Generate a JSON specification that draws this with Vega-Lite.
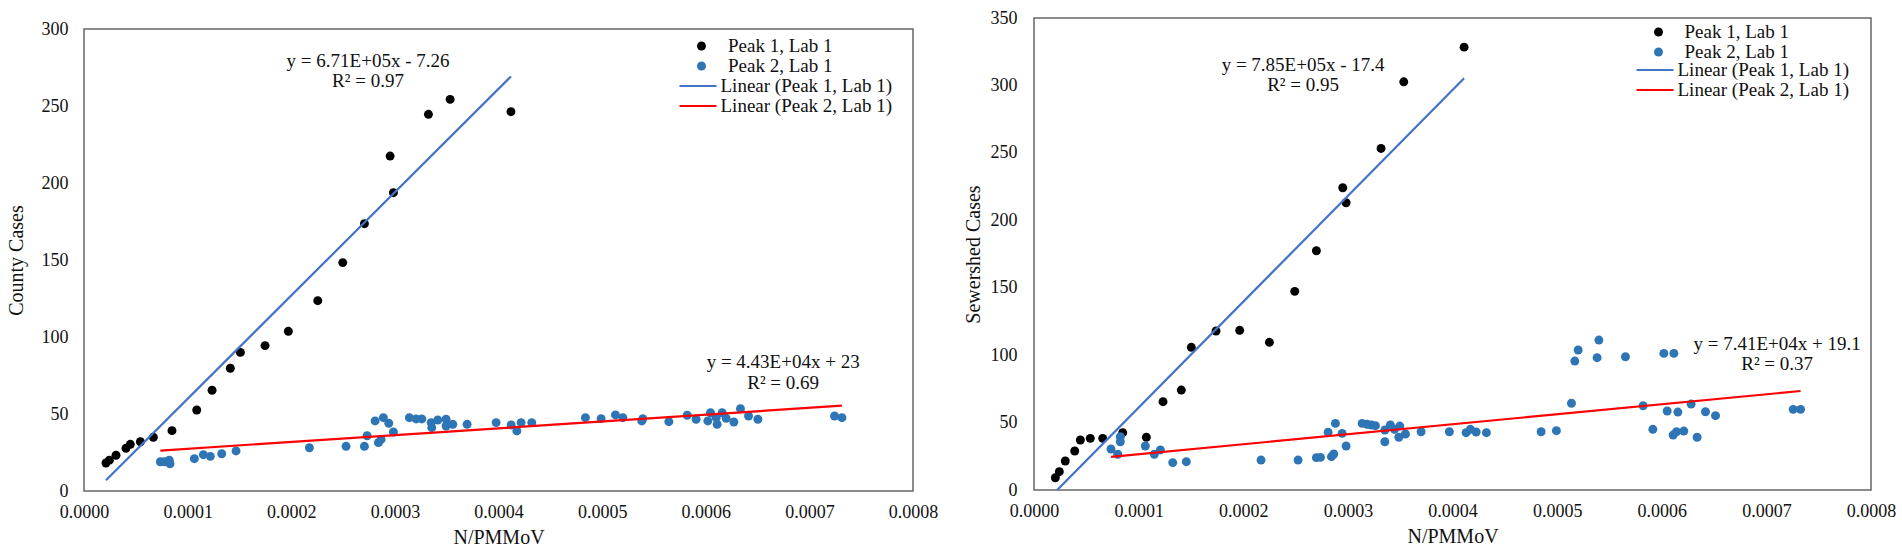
{
  "$schema": "https://vega.github.io/schema/vega-lite/v6.json",
  "autosize": {"type": "pad"},
  "padding": {"left": 5, "top": 8, "right": 0, "bottom": 0},
  "spacing": 23,
  "datasets": {
    "county_points": [
      {"n_pmmov": 0.0000212, "cases": 18.2, "series": "Peak 1, Lab 1"},
      {"n_pmmov": 0.0000245, "cases": 20, "series": "Peak 1, Lab 1"},
      {"n_pmmov": 0.0000309, "cases": 23.2, "series": "Peak 1, Lab 1"},
      {"n_pmmov": 0.0000405, "cases": 27.7, "series": "Peak 1, Lab 1"},
      {"n_pmmov": 0.0000447, "cases": 30.3, "series": "Peak 1, Lab 1"},
      {"n_pmmov": 0.0000544, "cases": 32, "series": "Peak 1, Lab 1"},
      {"n_pmmov": 0.0000669, "cases": 34.9, "series": "Peak 1, Lab 1"},
      {"n_pmmov": 0.0000849, "cases": 39.2, "series": "Peak 1, Lab 1"},
      {"n_pmmov": 0.0001088, "cases": 52.6, "series": "Peak 1, Lab 1"},
      {"n_pmmov": 0.0001236, "cases": 65.4, "series": "Peak 1, Lab 1"},
      {"n_pmmov": 0.0001412, "cases": 79.7, "series": "Peak 1, Lab 1"},
      {"n_pmmov": 0.0001509, "cases": 90, "series": "Peak 1, Lab 1"},
      {"n_pmmov": 0.0001747, "cases": 94.4, "series": "Peak 1, Lab 1"},
      {"n_pmmov": 0.0001972, "cases": 103.7, "series": "Peak 1, Lab 1"},
      {"n_pmmov": 0.0002256, "cases": 123.6, "series": "Peak 1, Lab 1"},
      {"n_pmmov": 0.0002497, "cases": 148.3, "series": "Peak 1, Lab 1"},
      {"n_pmmov": 0.0002706, "cases": 173.6, "series": "Peak 1, Lab 1"},
      {"n_pmmov": 0.0002986, "cases": 193.7, "series": "Peak 1, Lab 1"},
      {"n_pmmov": 0.0002954, "cases": 217.5, "series": "Peak 1, Lab 1"},
      {"n_pmmov": 0.0003324, "cases": 244.6, "series": "Peak 1, Lab 1"},
      {"n_pmmov": 0.0003533, "cases": 254.3, "series": "Peak 1, Lab 1"},
      {"n_pmmov": 0.000412, "cases": 246.3, "series": "Peak 1, Lab 1"},
      {"n_pmmov": 0.0000737, "cases": 19, "series": "Peak 2, Lab 1"},
      {"n_pmmov": 0.0000775, "cases": 19, "series": "Peak 2, Lab 1"},
      {"n_pmmov": 0.0000823, "cases": 20, "series": "Peak 2, Lab 1"},
      {"n_pmmov": 0.000083, "cases": 17.7, "series": "Peak 2, Lab 1"},
      {"n_pmmov": 0.0001065, "cases": 21, "series": "Peak 2, Lab 1"},
      {"n_pmmov": 0.0001152, "cases": 23.6, "series": "Peak 2, Lab 1"},
      {"n_pmmov": 0.0001219, "cases": 22.5, "series": "Peak 2, Lab 1"},
      {"n_pmmov": 0.0001329, "cases": 24.2, "series": "Peak 2, Lab 1"},
      {"n_pmmov": 0.0001467, "cases": 26, "series": "Peak 2, Lab 1"},
      {"n_pmmov": 0.0002175, "cases": 28.1, "series": "Peak 2, Lab 1"},
      {"n_pmmov": 0.0002529, "cases": 29, "series": "Peak 2, Lab 1"},
      {"n_pmmov": 0.0002706, "cases": 29, "series": "Peak 2, Lab 1"},
      {"n_pmmov": 0.0002732, "cases": 35.9, "series": "Peak 2, Lab 1"},
      {"n_pmmov": 0.0002809, "cases": 45.5, "series": "Peak 2, Lab 1"},
      {"n_pmmov": 0.0002889, "cases": 47.6, "series": "Peak 2, Lab 1"},
      {"n_pmmov": 0.0002941, "cases": 44, "series": "Peak 2, Lab 1"},
      {"n_pmmov": 0.0002841, "cases": 31.4, "series": "Peak 2, Lab 1"},
      {"n_pmmov": 0.0002867, "cases": 33.5, "series": "Peak 2, Lab 1"},
      {"n_pmmov": 0.0002986, "cases": 38.3, "series": "Peak 2, Lab 1"},
      {"n_pmmov": 0.000314, "cases": 47.6, "series": "Peak 2, Lab 1"},
      {"n_pmmov": 0.0003205, "cases": 46.8, "series": "Peak 2, Lab 1"},
      {"n_pmmov": 0.000326, "cases": 46.8, "series": "Peak 2, Lab 1"},
      {"n_pmmov": 0.000335, "cases": 44.4, "series": "Peak 2, Lab 1"},
      {"n_pmmov": 0.0003356, "cases": 41.1, "series": "Peak 2, Lab 1"},
      {"n_pmmov": 0.0003414, "cases": 46.1, "series": "Peak 2, Lab 1"},
      {"n_pmmov": 0.0003494, "cases": 46.6, "series": "Peak 2, Lab 1"},
      {"n_pmmov": 0.0003494, "cases": 42.2, "series": "Peak 2, Lab 1"},
      {"n_pmmov": 0.0003559, "cases": 43.3, "series": "Peak 2, Lab 1"},
      {"n_pmmov": 0.0003697, "cases": 43.3, "series": "Peak 2, Lab 1"},
      {"n_pmmov": 0.0003977, "cases": 44.4, "series": "Peak 2, Lab 1"},
      {"n_pmmov": 0.0004122, "cases": 42.9, "series": "Peak 2, Lab 1"},
      {"n_pmmov": 0.0004177, "cases": 39, "series": "Peak 2, Lab 1"},
      {"n_pmmov": 0.0004218, "cases": 44.4, "series": "Peak 2, Lab 1"},
      {"n_pmmov": 0.0004321, "cases": 44.4, "series": "Peak 2, Lab 1"},
      {"n_pmmov": 0.0004839, "cases": 47.6, "series": "Peak 2, Lab 1"},
      {"n_pmmov": 0.000499, "cases": 47, "series": "Peak 2, Lab 1"},
      {"n_pmmov": 0.0005129, "cases": 49.4, "series": "Peak 2, Lab 1"},
      {"n_pmmov": 0.00052, "cases": 47.6, "series": "Peak 2, Lab 1"},
      {"n_pmmov": 0.0005393, "cases": 47, "series": "Peak 2, Lab 1"},
      {"n_pmmov": 0.0005383, "cases": 45.5, "series": "Peak 2, Lab 1"},
      {"n_pmmov": 0.0005644, "cases": 45, "series": "Peak 2, Lab 1"},
      {"n_pmmov": 0.0005821, "cases": 49.2, "series": "Peak 2, Lab 1"},
      {"n_pmmov": 0.0005907, "cases": 46.6, "series": "Peak 2, Lab 1"},
      {"n_pmmov": 0.000602, "cases": 45.5, "series": "Peak 2, Lab 1"},
      {"n_pmmov": 0.0006046, "cases": 50.8, "series": "Peak 2, Lab 1"},
      {"n_pmmov": 0.00061, "cases": 47.6, "series": "Peak 2, Lab 1"},
      {"n_pmmov": 0.000611, "cases": 43.3, "series": "Peak 2, Lab 1"},
      {"n_pmmov": 0.0006158, "cases": 50.8, "series": "Peak 2, Lab 1"},
      {"n_pmmov": 0.0006197, "cases": 47.2, "series": "Peak 2, Lab 1"},
      {"n_pmmov": 0.0006271, "cases": 44.8, "series": "Peak 2, Lab 1"},
      {"n_pmmov": 0.0006335, "cases": 53.4, "series": "Peak 2, Lab 1"},
      {"n_pmmov": 0.0006413, "cases": 48.7, "series": "Peak 2, Lab 1"},
      {"n_pmmov": 0.0006503, "cases": 46.6, "series": "Peak 2, Lab 1"},
      {"n_pmmov": 0.0007243, "cases": 48.7, "series": "Peak 2, Lab 1"},
      {"n_pmmov": 0.0007314, "cases": 47.6, "series": "Peak 2, Lab 1"}
    ],
    "county_trend": [
      {"n_pmmov": 0.0000212, "cases": 6.97, "series": "Linear (Peak 1, Lab 1)"},
      {"n_pmmov": 0.000412, "cases": 269.2, "series": "Linear (Peak 1, Lab 1)"},
      {"n_pmmov": 0.0000737, "cases": 26.27, "series": "Linear (Peak 2, Lab 1)"},
      {"n_pmmov": 0.0007314, "cases": 55.4, "series": "Linear (Peak 2, Lab 1)"}
    ],
    "county_labels": [
      {"n_pmmov": 0.0002741, "cases": 279.2, "label": "y = 6.71E+05x - 7.26"},
      {"n_pmmov": 0.0002741, "cases": 266.2, "label": "R² = 0.97"},
      {"n_pmmov": 0.0006747, "cases": 83.8, "label": "y = 4.43E+04x + 23"},
      {"n_pmmov": 0.0006747, "cases": 70.1, "label": "R² = 0.69"}
    ],
    "sewershed_points": [
      {"n_pmmov": 0.0000204, "cases": 9.1, "series": "Peak 1, Lab 1"},
      {"n_pmmov": 0.0000242, "cases": 13.6, "series": "Peak 1, Lab 1"},
      {"n_pmmov": 0.0000299, "cases": 21.5, "series": "Peak 1, Lab 1"},
      {"n_pmmov": 0.0000389, "cases": 28.9, "series": "Peak 1, Lab 1"},
      {"n_pmmov": 0.0000443, "cases": 37.1, "series": "Peak 1, Lab 1"},
      {"n_pmmov": 0.0000538, "cases": 38.3, "series": "Peak 1, Lab 1"},
      {"n_pmmov": 0.0000657, "cases": 38.3, "series": "Peak 1, Lab 1"},
      {"n_pmmov": 0.0000848, "cases": 42.5, "series": "Peak 1, Lab 1"},
      {"n_pmmov": 0.0001074, "cases": 39.1, "series": "Peak 1, Lab 1"},
      {"n_pmmov": 0.0001233, "cases": 65.5, "series": "Peak 1, Lab 1"},
      {"n_pmmov": 0.0001408, "cases": 74.1, "series": "Peak 1, Lab 1"},
      {"n_pmmov": 0.0001504, "cases": 105.8, "series": "Peak 1, Lab 1"},
      {"n_pmmov": 0.000174, "cases": 117.9, "series": "Peak 1, Lab 1"},
      {"n_pmmov": 0.0001966, "cases": 118.4, "series": "Peak 1, Lab 1"},
      {"n_pmmov": 0.000225, "cases": 109.5, "series": "Peak 1, Lab 1"},
      {"n_pmmov": 0.0002492, "cases": 147.3, "series": "Peak 1, Lab 1"},
      {"n_pmmov": 0.0002699, "cases": 177.4, "series": "Peak 1, Lab 1"},
      {"n_pmmov": 0.0002951, "cases": 224.1, "series": "Peak 1, Lab 1"},
      {"n_pmmov": 0.0002983, "cases": 213, "series": "Peak 1, Lab 1"},
      {"n_pmmov": 0.0003317, "cases": 253.3, "series": "Peak 1, Lab 1"},
      {"n_pmmov": 0.0003534, "cases": 302.7, "series": "Peak 1, Lab 1"},
      {"n_pmmov": 0.0004111, "cases": 328.4, "series": "Peak 1, Lab 1"},
      {"n_pmmov": 0.0000736, "cases": 30.4, "series": "Peak 2, Lab 1"},
      {"n_pmmov": 0.00008, "cases": 26.5, "series": "Peak 2, Lab 1"},
      {"n_pmmov": 0.0000825, "cases": 39.5, "series": "Peak 2, Lab 1"},
      {"n_pmmov": 0.0000825, "cases": 35.8, "series": "Peak 2, Lab 1"},
      {"n_pmmov": 0.0001064, "cases": 32.6, "series": "Peak 2, Lab 1"},
      {"n_pmmov": 0.000115, "cases": 26.5, "series": "Peak 2, Lab 1"},
      {"n_pmmov": 0.0001208, "cases": 29.7, "series": "Peak 2, Lab 1"},
      {"n_pmmov": 0.0001326, "cases": 20.3, "series": "Peak 2, Lab 1"},
      {"n_pmmov": 0.0001456, "cases": 21, "series": "Peak 2, Lab 1"},
      {"n_pmmov": 0.000217, "cases": 22.2, "series": "Peak 2, Lab 1"},
      {"n_pmmov": 0.0002524, "cases": 22.2, "series": "Peak 2, Lab 1"},
      {"n_pmmov": 0.0002699, "cases": 24, "series": "Peak 2, Lab 1"},
      {"n_pmmov": 0.0002738, "cases": 24.2, "series": "Peak 2, Lab 1"},
      {"n_pmmov": 0.0002843, "cases": 24.7, "series": "Peak 2, Lab 1"},
      {"n_pmmov": 0.0002865, "cases": 26.7, "series": "Peak 2, Lab 1"},
      {"n_pmmov": 0.0002811, "cases": 42.8, "series": "Peak 2, Lab 1"},
      {"n_pmmov": 0.0002881, "cases": 49.4, "series": "Peak 2, Lab 1"},
      {"n_pmmov": 0.0002945, "cases": 42, "series": "Peak 2, Lab 1"},
      {"n_pmmov": 0.0002983, "cases": 32.6, "series": "Peak 2, Lab 1"},
      {"n_pmmov": 0.0003136, "cases": 49.4, "series": "Peak 2, Lab 1"},
      {"n_pmmov": 0.0003184, "cases": 48.7, "series": "Peak 2, Lab 1"},
      {"n_pmmov": 0.0003225, "cases": 48.2, "series": "Peak 2, Lab 1"},
      {"n_pmmov": 0.0003263, "cases": 47.7, "series": "Peak 2, Lab 1"},
      {"n_pmmov": 0.0003353, "cases": 44.5, "series": "Peak 2, Lab 1"},
      {"n_pmmov": 0.0003353, "cases": 35.8, "series": "Peak 2, Lab 1"},
      {"n_pmmov": 0.0003406, "cases": 48.2, "series": "Peak 2, Lab 1"},
      {"n_pmmov": 0.0003445, "cases": 45, "series": "Peak 2, Lab 1"},
      {"n_pmmov": 0.0003496, "cases": 47.4, "series": "Peak 2, Lab 1"},
      {"n_pmmov": 0.0003487, "cases": 39.1, "series": "Peak 2, Lab 1"},
      {"n_pmmov": 0.000355, "cases": 41.5, "series": "Peak 2, Lab 1"},
      {"n_pmmov": 0.00037, "cases": 43.2, "series": "Peak 2, Lab 1"},
      {"n_pmmov": 0.000397, "cases": 43.2, "series": "Peak 2, Lab 1"},
      {"n_pmmov": 0.000413, "cases": 42.5, "series": "Peak 2, Lab 1"},
      {"n_pmmov": 0.0004171, "cases": 45, "series": "Peak 2, Lab 1"},
      {"n_pmmov": 0.0004226, "cases": 43, "series": "Peak 2, Lab 1"},
      {"n_pmmov": 0.0004324, "cases": 42.5, "series": "Peak 2, Lab 1"},
      {"n_pmmov": 0.0004847, "cases": 43.2, "series": "Peak 2, Lab 1"},
      {"n_pmmov": 0.0004993, "cases": 44, "series": "Peak 2, Lab 1"},
      {"n_pmmov": 0.0005137, "cases": 64.3, "series": "Peak 2, Lab 1"},
      {"n_pmmov": 0.0005169, "cases": 95.6, "series": "Peak 2, Lab 1"},
      {"n_pmmov": 0.0005201, "cases": 103.8, "series": "Peak 2, Lab 1"},
      {"n_pmmov": 0.0005382, "cases": 98.1, "series": "Peak 2, Lab 1"},
      {"n_pmmov": 0.0005399, "cases": 111.2, "series": "Peak 2, Lab 1"},
      {"n_pmmov": 0.0005653, "cases": 98.8, "series": "Peak 2, Lab 1"},
      {"n_pmmov": 0.0005822, "cases": 62.5, "series": "Peak 2, Lab 1"},
      {"n_pmmov": 0.0005915, "cases": 45, "series": "Peak 2, Lab 1"},
      {"n_pmmov": 0.000602, "cases": 101.3, "series": "Peak 2, Lab 1"},
      {"n_pmmov": 0.0006116, "cases": 101.3, "series": "Peak 2, Lab 1"},
      {"n_pmmov": 0.0006052, "cases": 58.6, "series": "Peak 2, Lab 1"},
      {"n_pmmov": 0.0006154, "cases": 57.8, "series": "Peak 2, Lab 1"},
      {"n_pmmov": 0.0006109, "cases": 40.8, "series": "Peak 2, Lab 1"},
      {"n_pmmov": 0.0006141, "cases": 43.2, "series": "Peak 2, Lab 1"},
      {"n_pmmov": 0.0006211, "cases": 43.7, "series": "Peak 2, Lab 1"},
      {"n_pmmov": 0.0006281, "cases": 63.7, "series": "Peak 2, Lab 1"},
      {"n_pmmov": 0.0006338, "cases": 39.1, "series": "Peak 2, Lab 1"},
      {"n_pmmov": 0.0006418, "cases": 58, "series": "Peak 2, Lab 1"},
      {"n_pmmov": 0.0006514, "cases": 55.1, "series": "Peak 2, Lab 1"},
      {"n_pmmov": 0.0007256, "cases": 59.8, "series": "Peak 2, Lab 1"},
      {"n_pmmov": 0.0007327, "cases": 59.8, "series": "Peak 2, Lab 1"}
    ],
    "sewershed_trend": [
      {"n_pmmov": 0.0000204, "cases": -1.39, "series": "Linear (Peak 1, Lab 1)"},
      {"n_pmmov": 0.0004111, "cases": 305.3, "series": "Linear (Peak 1, Lab 1)"},
      {"n_pmmov": 0.0000736, "cases": 24.55, "series": "Linear (Peak 2, Lab 1)"},
      {"n_pmmov": 0.0007327, "cases": 73.39, "series": "Linear (Peak 2, Lab 1)"}
    ],
    "sewershed_labels": [
      {"n_pmmov": 0.0002572, "cases": 315.0, "label": "y = 7.85E+05x - 17.4"},
      {"n_pmmov": 0.0002572, "cases": 300.2, "label": "R² = 0.95"},
      {"n_pmmov": 0.0007103, "cases": 108.2, "label": "y = 7.41E+04x + 19.1"},
      {"n_pmmov": 0.0007103, "cases": 93.4, "label": "R² = 0.37"}
    ]
  },
  "hconcat": [
    {
      "spacing": 0,
      "vconcat": [
        {
          "width": 829,
          "height": 1,
          "data": {"values": []},
          "mark": {"type": "point"},
          "view": {"stroke": null}
        },
        {
          "width": 829,
          "height": 462,
          "layer": [
            {
              "data": {"name": "county_points"},
              "mark": {"type": "point", "filled": true, "size": 80, "opacity": 1},
              "encoding": {
                "x": {
                  "field": "n_pmmov", "type": "quantitative",
                  "scale": {"domain": [0, 0.0008], "nice": false, "zero": false},
                  "axis": {"title": "N/PMMoV", "values": [0, 0.0001, 0.0002, 0.0003, 0.0004, 0.0005, 0.0006, 0.0007, 0.0008], "format": ".4f", "labelPadding": 12, "titlePadding": 6}
                },
                "y": {
                  "field": "cases", "type": "quantitative",
                  "scale": {"domain": [0, 300], "nice": false},
                  "axis": {"title": "County Cases", "values": [0, 50, 100, 150, 200, 250, 300], "labelPadding": 16, "titlePadding": 15}
                },
                "fill": {
                  "field": "series", "type": "nominal",
                  "scale": {"domain": ["Peak 1, Lab 1", "Peak 2, Lab 1"], "range": ["#000000", "#2E75B6"]},
                  "legend": {"title": null, "orient": "none", "legendX": 608, "legendY": 8, "symbolType": "circle", "symbolSize": 80, "labelOffset": 17}
                }
              }
            },
            {
              "data": {"name": "county_trend"},
              "mark": {"type": "line", "strokeWidth": 2.2, "clip": true},
              "encoding": {
                "x": {"field": "n_pmmov", "type": "quantitative"},
                "y": {"field": "cases", "type": "quantitative"},
                "stroke": {
                  "field": "series", "type": "nominal",
                  "scale": {"domain": ["Linear (Peak 1, Lab 1)", "Linear (Peak 2, Lab 1)"], "range": ["#4472C4", "#FF0000"]},
                  "legend": {"title": null, "orient": "none", "legendX": 594, "legendY": 48, "symbolType": "stroke", "symbolSize": 1369, "symbolStrokeWidth": 2.2, "labelOffset": 2.5}
                }
              }
            },
            {
              "data": {"name": "county_labels"},
              "mark": {"type": "text", "font": "Liberation Serif", "fontSize": 19, "color": "#111111", "align": "center", "baseline": "middle"},
              "encoding": {
                "x": {"field": "n_pmmov", "type": "quantitative"},
                "y": {"field": "cases", "type": "quantitative"},
                "text": {"field": "label"}
              }
            }
          ]
        }
      ],
      "resolve": {
        "scale": {"fill": "independent", "stroke": "independent"},
        "legend": {"fill": "independent", "stroke": "independent"}
      }
    },
    {
      "width": 837,
      "height": 472,
      "layer": [
        {
          "data": {"name": "sewershed_points"},
          "mark": {"type": "point", "filled": true, "size": 80, "opacity": 1},
          "encoding": {
            "x": {
              "field": "n_pmmov", "type": "quantitative",
              "scale": {"domain": [0, 0.0008], "nice": false, "zero": false},
              "axis": {"title": "N/PMMoV", "values": [0, 0.0001, 0.0002, 0.0003, 0.0004, 0.0005, 0.0006, 0.0007, 0.0008], "format": ".4f", "labelPadding": 12, "titlePadding": 6}
            },
            "y": {
              "field": "cases", "type": "quantitative",
              "scale": {"domain": [0, 350], "nice": false},
              "axis": {"title": "Sewershed Cases", "values": [0, 50, 100, 150, 200, 250, 300, 350], "labelPadding": 17, "titlePadding": 7}
            },
            "fill": {
              "field": "series", "type": "nominal",
              "scale": {"domain": ["Peak 1, Lab 1", "Peak 2, Lab 1"], "range": ["#000000", "#2E75B6"]},
              "legend": {"title": null, "orient": "none", "legendX": 615, "legendY": 5, "symbolType": "circle", "symbolSize": 80, "labelOffset": 16.5}
            }
          }
        },
        {
          "data": {"name": "sewershed_trend"},
          "mark": {"type": "line", "strokeWidth": 2.2, "clip": true},
          "encoding": {
            "x": {"field": "n_pmmov", "type": "quantitative"},
            "y": {"field": "cases", "type": "quantitative"},
            "stroke": {
              "field": "series", "type": "nominal",
              "scale": {"domain": ["Linear (Peak 1, Lab 1)", "Linear (Peak 2, Lab 1)"], "range": ["#4472C4", "#FF0000"]},
              "legend": {"title": null, "orient": "none", "legendX": 601, "legendY": 43, "symbolType": "stroke", "symbolSize": 1369, "symbolStrokeWidth": 2.2, "labelOffset": 2.5}
            }
          }
        },
        {
          "data": {"name": "sewershed_labels"},
          "mark": {"type": "text", "font": "Liberation Serif", "fontSize": 19, "color": "#111111", "align": "center", "baseline": "middle"},
          "encoding": {
            "x": {"field": "n_pmmov", "type": "quantitative"},
            "y": {"field": "cases", "type": "quantitative"},
            "text": {"field": "label"}
          }
        }
      ]
    }
  ],
  "resolve": {
    "scale": {"fill": "independent", "stroke": "independent"},
    "legend": {"fill": "independent", "stroke": "independent"}
  },
  "config": {
    "font": "Liberation Serif",
    "background": "white",
    "view": {"stroke": "#666666", "strokeWidth": 1.5},
    "axis": {
      "grid": false, "ticks": false, "tickSize": 0, "domain": false, "labelFlush": false,
      "labelFont": "Liberation Serif", "labelFontSize": 18, "labelColor": "#111111",
      "titleFont": "Liberation Serif", "titleFontSize": 20, "titleFontWeight": "normal", "titleColor": "#111111"
    },
    "legend": {
      "labelFont": "Liberation Serif", "labelFontSize": 19, "labelColor": "#111111", "labelLimit": 0,
      "padding": 0, "rowPadding": 1, "clipHeight": 18
    }
  }
}
